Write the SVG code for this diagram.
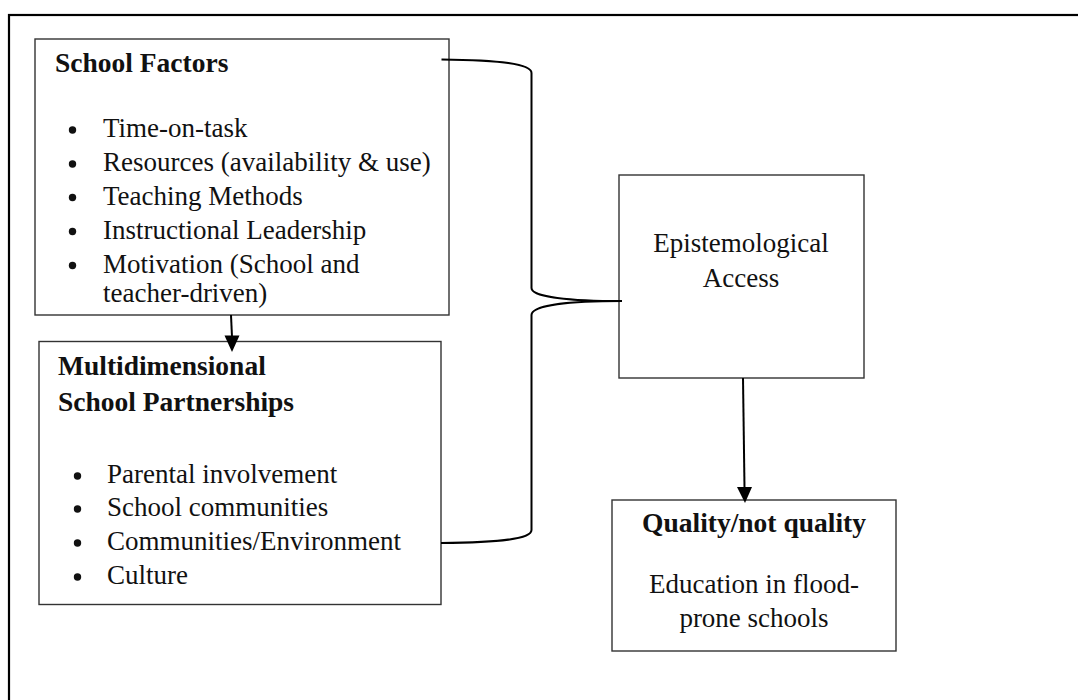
<svg xmlns="http://www.w3.org/2000/svg" width="1078" height="700" viewBox="0 0 1078 700">
  <defs>
    <style>
      .box { fill: #ffffff; stroke: #333333; stroke-width: 1.4; }
      .frame { fill: none; stroke: #000000; stroke-width: 2.2; }
      .conn { fill: none; stroke: #000000; stroke-width: 2; }
      .dot { fill: #111111; }
      text { font-family: "Liberation Serif", "Times New Roman", serif; font-size: 27px; fill: #111111; }
      .b { font-weight: bold; font-size: 27.5px; }
      .c { text-anchor: middle; }
    </style>
  </defs>

  <rect class="frame" x="9" y="15" width="1120" height="800"/>

  <g id="school-factors">
    <rect class="box" x="35" y="39" width="414" height="276"/>
    <text class="b" x="55" y="71.5">School Factors</text>
    <circle class="dot" cx="72.5" cy="130" r="3.7"/>
    <text x="103" y="137">Time-on-task</text>
    <circle class="dot" cx="72.5" cy="164" r="3.7"/>
    <text x="103" y="171">Resources (availability &amp; use)</text>
    <circle class="dot" cx="72.5" cy="197.5" r="3.7"/>
    <text x="103" y="204.5">Teaching Methods</text>
    <circle class="dot" cx="72.5" cy="231.5" r="3.7"/>
    <text x="103" y="238.5">Instructional Leadership</text>
    <circle class="dot" cx="72.5" cy="265.5" r="3.7"/>
    <text x="103" y="272.5">Motivation (School and</text>
    <text x="103" y="302">teacher-driven)</text>
  </g>

  <g id="partnerships">
    <rect class="box" x="39" y="341.5" width="402" height="263"/>
    <text class="b" x="58" y="375">Multidimensional</text>
    <text class="b" x="58" y="410.5">School Partnerships</text>
    <circle class="dot" cx="77.5" cy="476" r="3.7"/>
    <text x="107" y="483">Parental involvement</text>
    <circle class="dot" cx="77.5" cy="509" r="3.7"/>
    <text x="107" y="516">School communities</text>
    <circle class="dot" cx="77.5" cy="543" r="3.7"/>
    <text x="107" y="550">Communities/Environment</text>
    <circle class="dot" cx="77.5" cy="577" r="3.7"/>
    <text x="107" y="584">Culture</text>
  </g>

  <g id="epistemological-access">
    <rect class="box" x="619" y="175" width="245" height="203"/>
    <text class="c" x="741" y="252">Epistemological</text>
    <text class="c" x="741" y="287">Access</text>
  </g>

  <g id="quality">
    <rect class="box" x="612" y="500" width="284" height="151"/>
    <text class="c b" x="754" y="532">Quality/not quality</text>
    <text class="c" x="754" y="593">Education in flood-</text>
    <text class="c" x="754" y="627">prone schools</text>
  </g>

  <g id="connectors">
    <path class="conn" d="M441.5,59.5 C500,60 531.5,64 531.5,73 L531.5,288 C531.5,297 570,301 622,301"/>
    <path class="conn" d="M622,301 C570,301 531.5,305 531.5,315 L531.5,530 C531.5,539 500,542.5 441,543"/>
    <line class="conn" x1="231" y1="315" x2="232" y2="337"/>
    <path d="M224.5,335.5 L239.5,335.5 L232,352 Z" fill="#000"/>
    <line class="conn" x1="743" y1="378" x2="744.5" y2="488"/>
    <path d="M737,487 L752,487 L745,503 Z" fill="#000"/>
  </g>
</svg>
